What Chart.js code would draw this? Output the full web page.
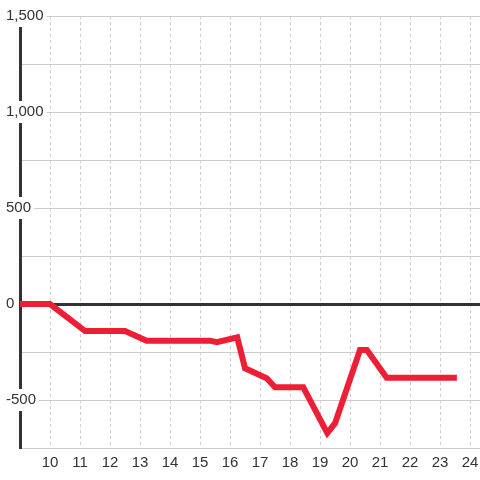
<!DOCTYPE html>
<html>
<head>
<meta charset="utf-8">
<script src="https://cdn.jsdelivr.net/npm/chart.js@4"></script>
<style>
  html, body { margin: 0; padding: 0; background: #fff; }
  #wrap { width: 480px; height: 480px; }
</style>
</head>
<body>
<div id="wrap"><canvas id="chart"></canvas></div>
<script>
// hour of day and running value
var hours  = [8.9, 10, 11.17, 12.5, 13.22, 15.33, 15.56, 16.24, 16.5, 17.22, 17.5, 18.44, 19.24, 19.5, 20.33, 20.56, 21.22, 23.56];
var values = [0, 0, -141, -141, -191, -191, -199, -174, -335, -387, -434, -434, -672, -621, -240, -240, -384, -384];

var xTicks = [10, 11, 12, 13, 14, 15, 16, 17, 18, 19, 20, 21, 22, 23, 24];
var yLabelled = [-500, 0, 500, 1000, 1500];

var points = hours.map(function(h, i) { return { x: h, y: values[i] }; });

var font = { family: '"Liberation Sans", Arial, sans-serif', size: 15 };

new Chart(document.getElementById('chart').getContext('2d'), {
  type: 'line',
  data: {
    datasets: [{
      data: points,
      borderColor: '#ed1f36',
      borderWidth: 6,
      pointRadius: 0,
      tension: 0,
      fill: false
    }]
  },
  options: {
    responsive: true,
    maintainAspectRatio: false,
    animation: false,
    layout: { padding: { top: 16, right: 0, bottom: 0, left: 0 } },
    plugins: { legend: { display: false }, tooltip: { enabled: false } },
    scales: {
      x: {
        type: 'linear',
        min: 9,
        max: 24.33,
        afterBuildTicks: function(scale) {
          scale.ticks = xTicks.map(function(v) { return { value: v }; });
        },
        afterFit: function(scale) {
          scale.height = 32;
          scale.paddingLeft = 0;
          scale.paddingRight = 0;
        },
        grid: { color: '#cccccc', lineWidth: 1, drawTicks: false },
        border: { display: false, dash: [3, 3] },
        ticks: { font: font, color: '#333', padding: 6, maxRotation: 0 }
      },
      y: {
        min: -750,
        max: 1500,
        afterFit: function(scale) {
          scale.width = 20;
          scale.paddingTop = 0;
          scale.paddingBottom = 0;
        },
        border: { display: true, color: '#333', width: 3 },
        grid: {
          drawTicks: false,
          color: function(ctx) { return ctx.tick && ctx.tick.value === 0 ? '#333' : '#cccccc'; },
          lineWidth: function(ctx) { return ctx.tick && ctx.tick.value === 0 ? 3 : 1; }
        },
        ticks: {
          stepSize: 250,
          mirror: true,
          padding: -14,
          font: font,
          color: '#333',
          showLabelBackdrop: true,
          backdropPadding: { x: 3, y: 2 },
          backdropColor: function(ctx) {
            return yLabelled.indexOf(ctx.tick.value) >= 0 ? '#fff' : 'rgba(0,0,0,0)';
          },
          callback: function(v) {
            return yLabelled.indexOf(v) >= 0 ? v.toLocaleString('en-US') : '';
          }
        }
      }
    }
  }
});
</script>
</body>
</html>
